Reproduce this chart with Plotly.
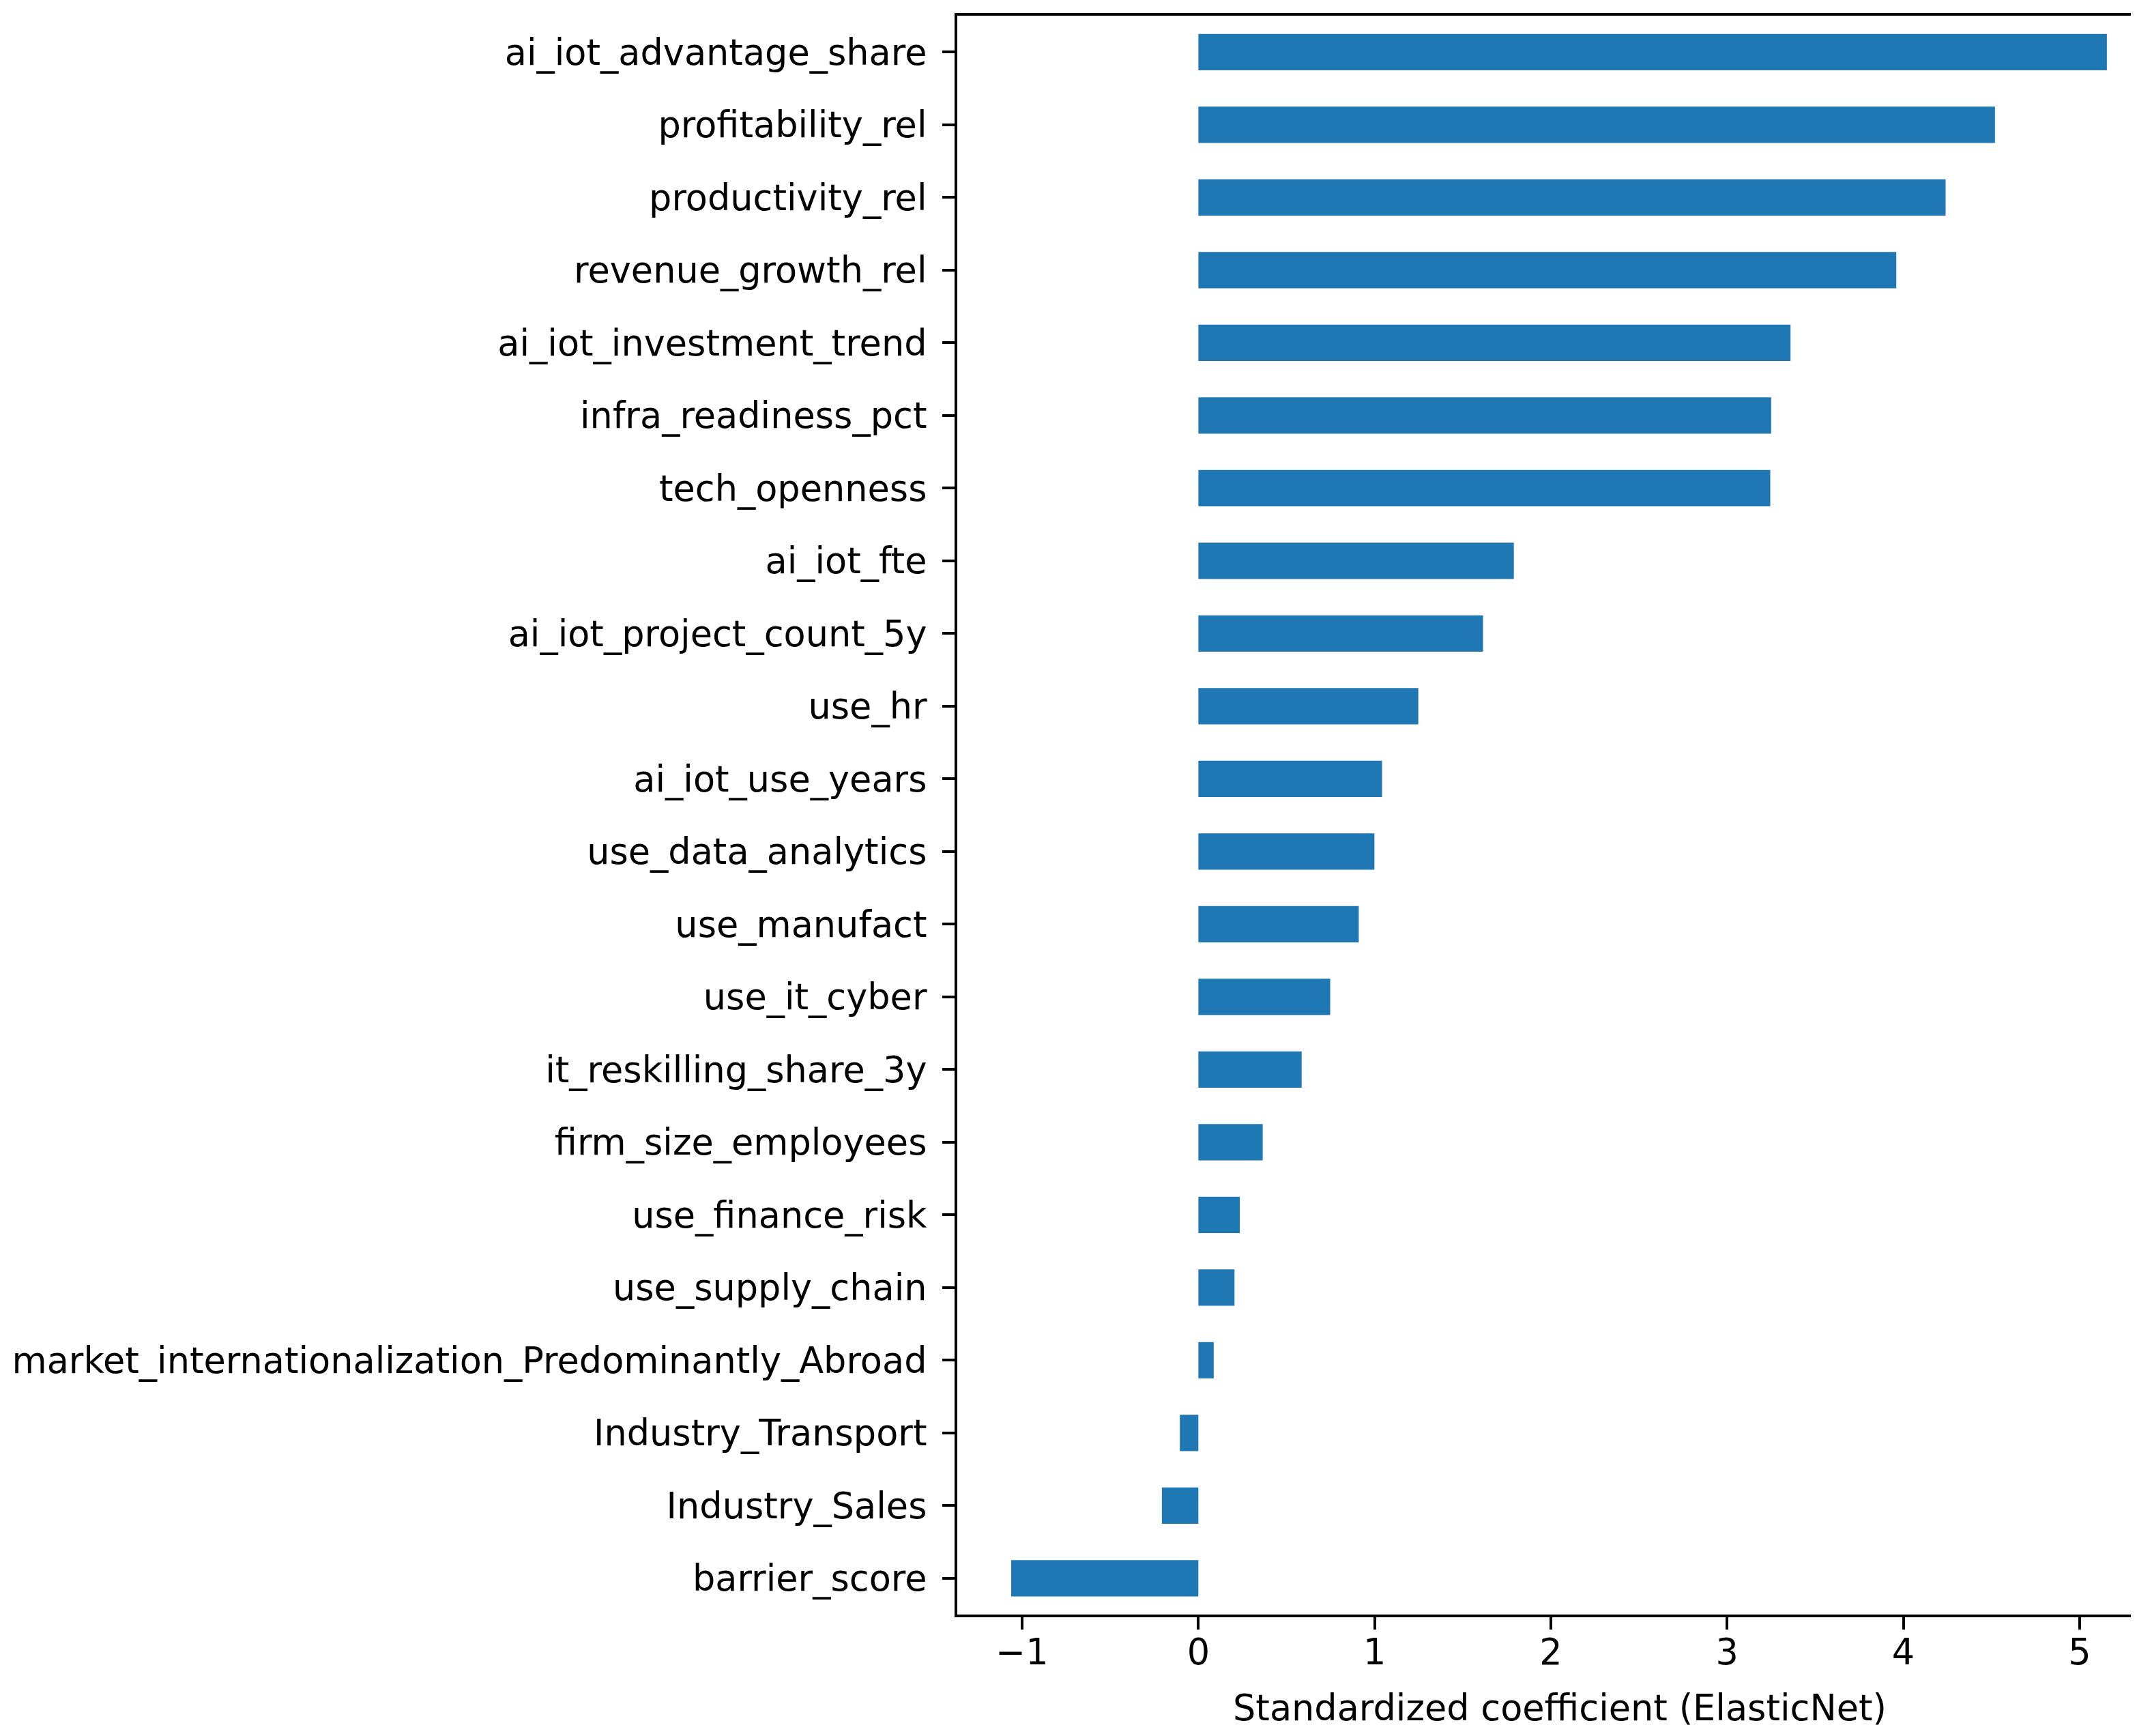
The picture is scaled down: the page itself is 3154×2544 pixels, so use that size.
import plotly.graph_objects as go

# ElasticNet standardized coefficients, listed top to bottom
features = [
    "ai_iot_advantage_share",
    "profitability_rel",
    "productivity_rel",
    "revenue_growth_rel",
    "ai_iot_investment_trend",
    "infra_readiness_pct",
    "tech_openness",
    "ai_iot_fte",
    "ai_iot_project_count_5y",
    "use_hr",
    "ai_iot_use_years",
    "use_data_analytics",
    "use_manufact",
    "use_it_cyber",
    "it_reskilling_share_3y",
    "firm_size_employees",
    "use_finance_risk",
    "use_supply_chain",
    "market_internationalization_Predominantly_Abroad",
    "Industry_Transport",
    "Industry_Sales",
    "barrier_score",
]
coefs = [5.155, 4.52, 4.24, 3.96, 3.36, 3.25, 3.245, 1.79, 1.615, 1.248,
         1.042, 0.999, 0.910, 0.748, 0.586, 0.365, 0.235, 0.205, 0.087,
         -0.105, -0.207, -1.062]
xticks = [-1, 0, 1, 2, 3, 4, 5]

font = dict(family="DejaVu Sans", size=52.5, color="black")

fig = go.Figure(go.Bar(
    x=coefs, y=features, orientation="h",
    width=0.5, marker=dict(color="#1f77b4", line=dict(width=0)),
))

fig.update_layout(
    width=3154, height=2544,
    margin=dict(l=1395, r=39, t=15, b=186),
    plot_bgcolor="white", paper_bgcolor="white",
    font=font, showlegend=False,
    annotations=[dict(
        text="Standardized coefficient (ElasticNet)",
        xref="x", yref="paper", x=2.05, y=0,
        xanchor="center", yanchor="middle", yshift=-136,
        showarrow=False, font=font,
    )],
)
fig.update_xaxes(
    range=[-1.368, 5.291], tickvals=xticks,
    showgrid=False, zeroline=False, automargin=False,
    showline=True, linecolor="black", linewidth=4, mirror=True,
    ticks="outside", ticklen=18, tickwidth=4, tickcolor="black",
    tickfont=font, ticklabelstandoff=-12,
)
fig.update_yaxes(
    range=[21.5, -0.5], type="category",
    showgrid=False, zeroline=False, automargin=False,
    showline=True, linecolor="black", linewidth=4,
    ticks="outside", ticklen=18, tickwidth=4, tickcolor="black",
    tickfont=font, ticklabelstandoff=12,
)

fig.write_html("out.html")
